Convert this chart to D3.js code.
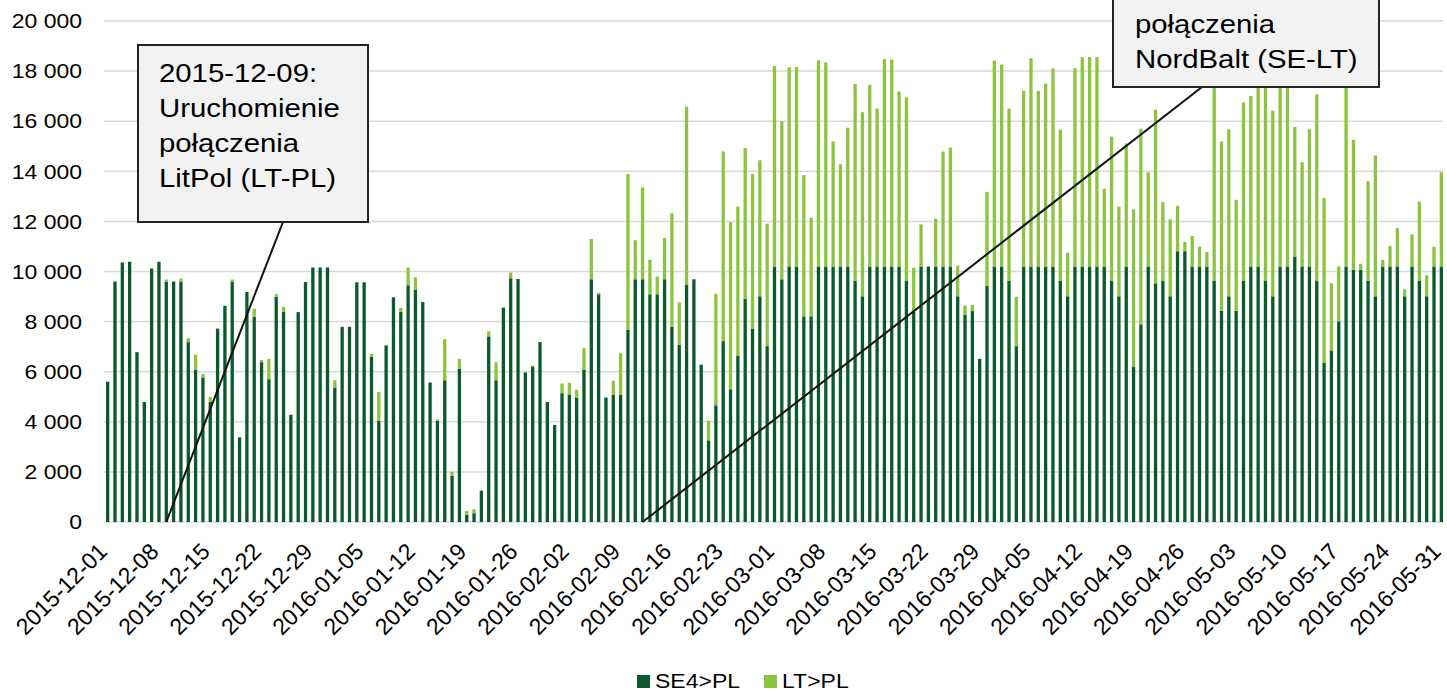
<!DOCTYPE html>
<html>
<head>
<meta charset="utf-8">
<script src="https://cdn.jsdelivr.net/npm/d3@7"></script>
<style>
  body { margin: 0; background: #fff; }
  text { font-family: "Liberation Sans", Arial, sans-serif; fill: #000; }
</style>
</head>
<body>
<div id="chart"></div>
<script>
// SE4>PL daily values (MW), 2015-12-01 .. 2016-05-31
const se4 = [
  5600, 9600, 10360, 10390, 6780, 4790, 10120, 10390, 9600, 9600,
  9600, 7180, 6080, 5770, 4800, 7720, 8630, 9600, 3380, 9180,
  8190, 6380, 5700, 8990, 8390, 4280, 8380, 9580, 10160, 10160,
  10160, 5370, 7790, 7790, 9570, 9570, 6600, 4030, 7050, 8970,
  8390, 9450, 9260, 8780, 5570, 4030, 5660, 1840, 6120, 295,
  350, 1250, 7410, 5660, 8560, 9730, 9700, 5970, 6200, 7180,
  4790, 3870, 5140, 5070, 4970, 6080, 9690, 9090, 4970, 5070,
  5070, 7680, 9690, 9690, 9090, 9090, 9690, 7790, 7070, 9460,
  9690, 6280, 3260, 4660, 7220, 5300, 6630, 8910, 7720, 9010,
  7020, 10200, 9690, 10200, 10200, 8210, 8210, 10200, 10200, 10200,
  10200, 10200, 9620, 9010, 10200, 10200, 10200, 10200, 10200, 9620,
  8400, 10200, 10200, 10200, 10200, 10200, 9010, 8280, 8420, 6510,
  9420, 10200, 10200, 9620, 7020, 10200, 10200, 10200, 10200, 10200,
  9620, 9010, 10200, 10200, 10200, 10200, 10200, 9620, 9010, 10200,
  6210, 7890, 10200, 9530, 9620, 9010, 10810, 10810, 10200, 10200,
  10200, 9620, 8430, 9010, 8430, 9620, 10200, 10200, 9620, 9010,
  10200, 10200, 10580, 10200, 10200, 9620, 6350, 6850, 8010, 10200,
  10070, 10070, 9620, 9010, 10200, 10200, 10200, 9010, 10200, 9620,
  9010, 10200, 10200
];

// LT>PL daily values (MW)
const lt = [
  0, 0, 0, 0, 0, 0, 0, 0, 80, 0,
  120, 160, 600, 150, 190, 0, 0, 80, 0, 0,
  330, 90, 810, 110, 200, 0, 0, 0, 0, 0,
  0, 290, 0, 0, 0, 0, 110, 1160, 0, 0,
  160, 710, 510, 0, 0, 60, 1640, 170, 390, 145,
  160, 0, 200, 720, 0, 230, 0, 0, 60, 0,
  0, 0, 390, 490, 310, 860, 1610, 60, 0, 570,
  1670, 6210, 1560, 3670, 1380, 710, 1650, 4530, 1700, 7120,
  0, 0, 790, 4450, 7570, 6670, 5960, 6020, 6170, 5430,
  4890, 8000, 6300, 7950, 7960, 5640, 3940, 8230, 8150, 4990,
  4080, 5540, 7870, 7350, 7250, 6310, 8280, 8260, 6990, 7330,
  1750, 1680, 0, 1910, 4590, 4750, 1220, 360, 240, 0,
  3760, 8220, 8060, 6880, 1970, 7020, 8310, 7010, 7300, 7910,
  6040, 1740, 7920, 8360, 8360, 8360, 3100, 5760, 3580, 4910,
  6270, 7810, 3760, 6930, 3150, 3070, 1810, 370, 1220, 790,
  580, 8780, 6760, 6670, 4430, 7130, 6810, 8300, 8800, 7410,
  8100, 8200, 5190, 4160, 5480, 7450, 6580, 2680, 2190, 8000,
  5190, 240, 3980, 5620, 270, 810, 1530, 280, 1280, 3170,
  840, 790, 3760
];

const tickLabels = [
  "2015-12-01", "2015-12-08", "2015-12-15", "2015-12-22", "2015-12-29",
  "2016-01-05", "2016-01-12", "2016-01-19", "2016-01-26",
  "2016-02-02", "2016-02-09", "2016-02-16", "2016-02-23",
  "2016-03-01", "2016-03-08", "2016-03-15", "2016-03-22", "2016-03-29",
  "2016-04-05", "2016-04-12", "2016-04-19", "2016-04-26",
  "2016-05-03", "2016-05-10", "2016-05-17", "2016-05-24", "2016-05-31"
];

const seriesNames = ["SE4>PL", "LT>PL"];
const seriesColors = ["#0a5a2c", "#8cc43f"];

const yTicks = [0, 2000, 4000, 6000, 8000, 10000, 12000, 14000, 16000, 18000, 20000];

const notes = [
  { date: "2015-12-09", lines: ["2015-12-09:", "Uruchomienie", "połączenia", "LitPol (LT-PL)"] },
  { date: "2016-02-12", lines: ["połączenia", "NordBalt (SE-LT)"] }
];

const fmtDay = d3.timeFormat("%Y-%m-%d");
const days = d3.timeDay.range(new Date(2015, 11, 1), new Date(2016, 5, 1)).map(fmtDay);
const rows = days.map((d, i) => ({ day: d, se4: se4[i], lt: lt[i] }));

const W = 1447, H = 693;
const stretch = 1.15;

const svg = d3.select("#chart").append("svg")
  .attr("width", W)
  .attr("height", H);

const x = d3.scaleBand()
  .domain(days)
  .range([104, 1445])
  .paddingInner(0.55)
  .paddingOuter(0.275);

const y = d3.scaleLinear()
  .domain([0, 20000])
  .range([522, 21]);

// gridlines
svg.append("g")
  .selectAll("line")
  .data(yTicks)
  .join("line")
  .attr("x1", 104)
  .attr("x2", 1443)
  .attr("y1", d => y(d))
  .attr("y2", d => y(d))
  .attr("stroke", "#d9d9d9")
  .attr("stroke-width", 1.5);

// y labels
svg.append("g")
  .selectAll("text")
  .data(yTicks)
  .join("text")
  .attr("transform", d => `translate(82,${y(d)}) scale(${stretch},1)`)
  .attr("dy", "0.36em")
  .attr("text-anchor", "end")
  .attr("font-size", "20px")
  .text(d => d3.format(",")(d).replace(/,/g, " "));

// stacked bars
const stack = d3.stack().keys(["se4", "lt"]);
const layers = stack(rows);

svg.append("g")
  .selectAll("g")
  .data(layers)
  .join("g")
  .attr("fill", (d, i) => seriesColors[i])
  .selectAll("rect")
  .data(d => d.filter(s => s[1] > s[0]))
  .join("rect")
  .attr("x", d => x(d.data.day))
  .attr("width", x.bandwidth())
  .attr("y", d => y(d[1]))
  .attr("height", d => y(d[0]) - y(d[1]));

// x labels, rotated
svg.append("g")
  .selectAll("text")
  .data(tickLabels)
  .join("text")
  .attr("transform", d => `translate(${x(d) + x.bandwidth() / 2 + 1},553) rotate(-45)`)
  .attr("text-anchor", "end")
  .attr("font-size", "23px")
  .text(d => d);

// annotations
const boxes = [
  { x: 138, y: 45, w: 230, h: 177, tx: 159, ty: 82, fromX: 283 },
  { x: 1113, y: -90, w: 266, h: 177, tx: 1135, ty: 33, fromX: 1202 }
];

notes.forEach((n, i) => {
  const b = boxes[i];
  svg.append("line")
    .attr("x1", b.fromX)
    .attr("y1", b.y + b.h)
    .attr("x2", x(n.date) + x.bandwidth() / 2)
    .attr("y2", y(0))
    .attr("stroke", "#111")
    .attr("stroke-width", 2);

  svg.append("rect")
    .attr("x", b.x)
    .attr("y", b.y)
    .attr("width", b.w)
    .attr("height", b.h)
    .attr("fill", "#f2f2f2")
    .attr("stroke", "#222")
    .attr("stroke-width", 2);

  n.lines.forEach((l, j) => {
    svg.append("text")
      .attr("transform", `translate(${b.tx},${b.ty + j * 35}) scale(${stretch},1)`)
      .attr("font-size", "25.5px")
      .text(l);
  });
});

// legend
const legend = svg.append("g")
  .selectAll("g")
  .data(seriesNames)
  .join("g")
  .attr("transform", (d, i) => `translate(${i === 0 ? 637 : 764},675)`);

legend.append("rect")
  .attr("width", 13)
  .attr("height", 13)
  .attr("fill", (d, i) => seriesColors[i]);

legend.append("text")
  .attr("transform", `translate(18,13) scale(${stretch},1)`)
  .attr("font-size", "20px")
  .text(d => d);
</script>
</body>
</html>
